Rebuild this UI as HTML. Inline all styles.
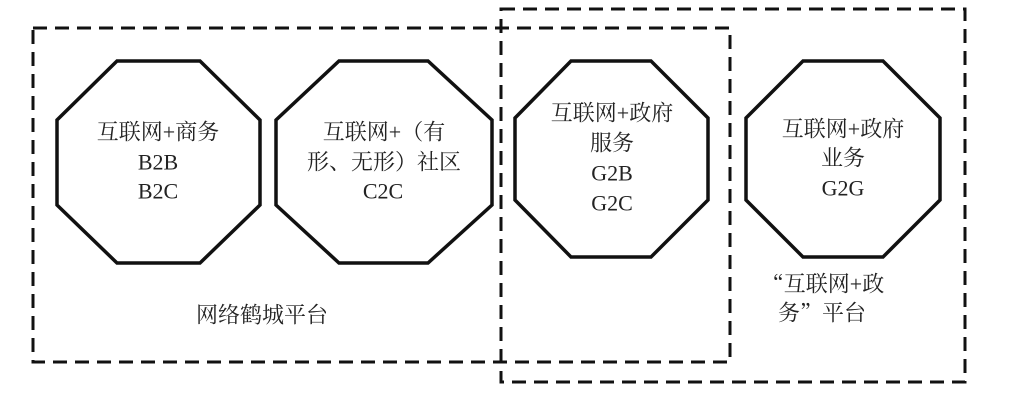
<!DOCTYPE html>
<html><head><meta charset="utf-8"><style>
html,body{margin:0;padding:0;background:#fff;}
svg text{font-family:"Liberation Serif","Noto Serif CJK SC",serif;font-size:22px;fill:#222;text-anchor:middle;dominant-baseline:central;}
.q{font-family:"Noto Serif CJK SC",serif;}
</style></head><body>
<svg width="1019" height="403" viewBox="0 0 1019 403" xmlns="http://www.w3.org/2000/svg">
<g fill="none" stroke="#111" stroke-width="3" stroke-dasharray="14,8">
<rect x="33" y="28" width="697" height="334"/>
<rect x="501" y="9" width="464" height="373"/>
</g>
<g fill="#fff" stroke="#111" stroke-width="3.5" stroke-linejoin="miter">
<polygon points="117,61 200,61 260,120 260,205 200,263 117,263 57,205 57,120"/>
<polygon points="339,61 428,61 492,120 492,205 428,263 339,263 276,205 276,120"/>
<polygon points="571,61 651,61 708,118 708,200 651,257 571,257 515,200 515,118"/>
<polygon points="803,61 883,61 940,118 940,200 883,257 803,257 746,200 746,118"/>
</g>
<text x="158" y="132">互联网+商务</text>
<text x="158" y="162">B2B</text>
<text x="158" y="191">B2C</text>
<text x="384" y="132">互联网+（有</text>
<text x="384" y="162">形、无形）社区</text>
<text x="383" y="191">C2C</text>
<text x="612" y="113">互联网+政府</text>
<text x="612" y="143">服务</text>
<text x="612" y="173">G2B</text>
<text x="612" y="203">G2C</text>
<text x="843" y="129">互联网+政府</text>
<text x="843" y="158">业务</text>
<text x="843" y="188">G2G</text>
<text x="262" y="315">网络鹤城平台</text>
<text x="823" y="284"><tspan class="q">“</tspan>互联网+政</text>
<text x="822" y="313">务<tspan class="q">”</tspan>平台</text>
</svg>
</body></html>
